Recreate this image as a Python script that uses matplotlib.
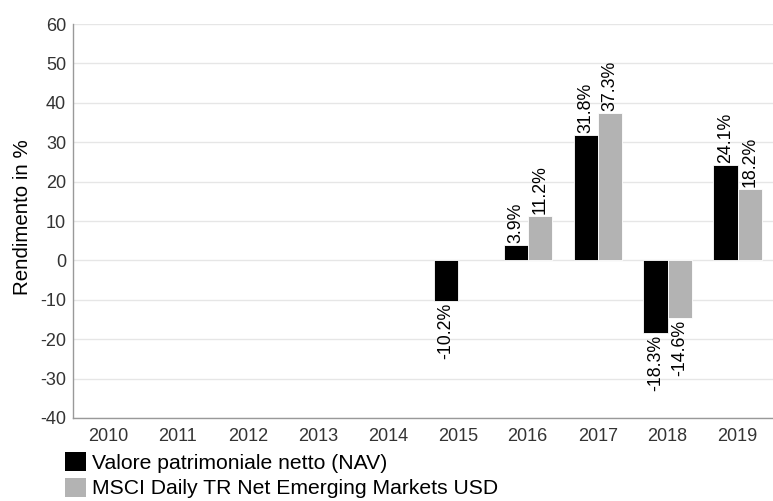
import numpy as np
import matplotlib.pyplot as plt
from matplotlib.patches import Patch

plt.rcParams['font.family'] = ['Liberation Sans', 'DejaVu Sans']
plt.rcParams['axes.unicode_minus'] = False

# dati
anni = ['2010', '2011', '2012', '2013', '2014', '2015', '2016', '2017', '2018', '2019']
nav = [np.nan, np.nan, np.nan, np.nan, np.nan, -10.2, 3.9, 31.8, -18.3, 24.1]
msci = [np.nan, np.nan, np.nan, np.nan, np.nan, np.nan, 11.2, 37.3, -14.6, 18.2]
nomi_serie = ['Valore patrimoniale netto (NAV)', 'MSCI Daily TR Net Emerging Markets USD']
colori = ['#000000', '#b3b3b3']

fig = plt.figure(figsize=(7.73, 5.01), dpi=100)
ax = fig.add_axes([0.0944, 0.1657, 0.905, 0.7863])

x = np.arange(len(anni))
w = 0.345
for serie, col, dx in [(nav, colori[0], -w / 2), (msci, colori[1], w / 2)]:
    vals = np.array(serie, dtype=float)
    mask = ~np.isnan(vals)
    bars = ax.bar(x[mask] + dx, vals[mask], width=w, color=col,
                  edgecolor='white', linewidth=0.6, zorder=3)
    for b, v in zip(bars, vals[mask]):
        if v >= 0:
            ax.annotate(f'{v:.1f}%', (b.get_x() + b.get_width() / 2, v),
                        xytext=(0, 1.5), textcoords='offset points',
                        rotation=90, ha='center', va='bottom',
                        fontsize=12.8, color='#000000')
        else:
            ax.annotate(f'{v:.1f}%', (b.get_x() + b.get_width() / 2, v),
                        xytext=(0, -1.5), textcoords='offset points',
                        rotation=90, ha='center', va='top',
                        fontsize=12.8, color='#000000')

ax.set_xlim(-0.5, len(anni) - 0.5)
ax.set_ylim(-40, 60)
ax.set_yticks(np.arange(-40, 61, 10))
ax.set_xticks(x)
ax.set_xticklabels(anni)
ax.tick_params(axis='both', length=0, labelsize=13, colors='#333333')
ax.tick_params(axis='y', pad=5)
ax.tick_params(axis='x', pad=7)
ax.grid(axis='y', color='#e6e6e6', linewidth=1, zorder=0)
ax.set_axisbelow(True)
for s in ['top', 'right']:
    ax.spines[s].set_visible(False)
for s in ['left', 'bottom']:
    ax.spines[s].set_color('#999999')
    ax.spines[s].set_linewidth(1)
ax.set_ylabel('Rendimento in %', fontsize=14.8, color='#000000')
ax.yaxis.set_label_coords(-0.058, 0.51)

handles = [Patch(facecolor=c, edgecolor='none') for c in colori]
fig.legend(handles, nomi_serie, loc='upper left', bbox_to_anchor=(0.084, 0.097),
           frameon=False, fontsize=15.2, handlelength=1.0, handleheight=1.0,
           handletextpad=0.3, labelspacing=0.22, borderpad=0, borderaxespad=0)

fig.savefig('out.png', dpi=100)
